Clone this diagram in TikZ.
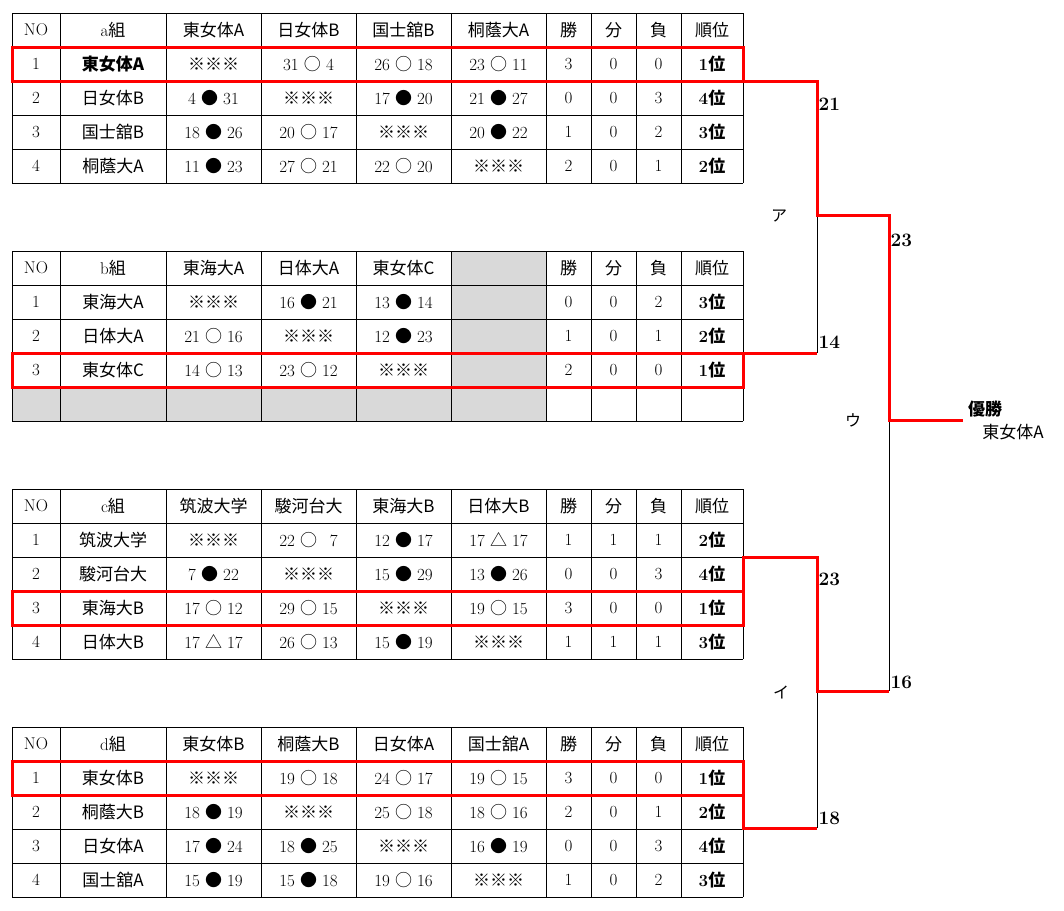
\documentclass[tikz,border=0pt]{standalone}
\usepackage{fontspec}
\newfontfamily\cjk{Noto Sans CJK JP}
\newcommand\jp[1]{{\cjk #1}}
\newcommand\wscore[2]{#1 \jp{○} #2}
\newcommand\lscore[2]{#1 \jp{●} #2}
\newcommand\dscore[2]{#1 \jp{△} #2}
\newcommand\noscore{\jp{※※※}}
\newcommand\juni[1]{\textbf{#1\jp{位}}}
\definecolor{cellgray}{RGB}{217,217,217}
\tikzset{gridline/.style = {line width=1pt, black},
         winline/.style = {line width=3pt, red},
         loseline/.style = {line width=1pt, black},
         cell/.style = {font=\fontsize{17}{20}\selectfont, inner sep=0pt},
         score/.style = {font=\fontsize{19}{22}\selectfont\bfseries, inner sep=1.5pt, anchor=west},
         kana/.style = {font=\fontsize{16}{20}\selectfont\cjk, inner sep=0pt}}
\def\colx{{36,113,213.5,308.5,403.5,498.5,568.5,613.5,658.5,712}}
\newcommand\grouptable[3]{%
  \foreach \k in {0,...,5}
    \draw[gridline] (12,#2+34*\k) -- (743,#2+34*\k);
  \foreach \gx in {12,60,166,261,356,451,546,591,636,681,743}
    \draw[gridline] (\gx,#2) -- (\gx,#2+170);
  \foreach \row [count=\i from 0] in {#3} {
    \foreach \txt [count=\j] in \row {
      \pgfmathsetmacro\cx{\colx[\j-1]}
      \node[cell] (#1-\i-\j) at (\cx,#2+17+34*\i) {\txt};
    }
  }}

\begin{document}
\begin{tikzpicture}[x=1pt, y=-1pt]
\useasboundingbox (0,0) rectangle (1064,910);
% group tables
\grouptable{a}{13}{
  {NO, a\jp{組}, \jp{東女体A}, \jp{日女体B}, \jp{国士舘B}, \jp{桐蔭大A}, \jp{勝}, \jp{分}, \jp{負}, \jp{順位}},
  {1, \textbf{\jp{東女体A}}, \noscore, \wscore{31}{4}, \wscore{26}{18}, \wscore{23}{11}, 3, 0, 0, \juni{1}},
  {2, \jp{日女体B}, \lscore{4}{31}, \noscore, \lscore{17}{20}, \lscore{21}{27}, 0, 0, 3, \juni{4}},
  {3, \jp{国士舘B}, \lscore{18}{26}, \wscore{20}{17}, \noscore, \lscore{20}{22}, 1, 0, 2, \juni{3}},
  {4, \jp{桐蔭大A}, \lscore{11}{23}, \wscore{27}{21}, \wscore{22}{20}, \noscore, 2, 0, 1, \juni{2}}}
\fill[cellgray] (451,251) rectangle (546,421);
\fill[cellgray] (12,387) rectangle (546,421);
\grouptable{b}{251}{
  {NO, b\jp{組}, \jp{東海大A}, \jp{日体大A}, \jp{東女体C}, {}, \jp{勝}, \jp{分}, \jp{負}, \jp{順位}},
  {1, \jp{東海大A}, \noscore, \lscore{16}{21}, \lscore{13}{14}, {}, 0, 0, 2, \juni{3}},
  {2, \jp{日体大A}, \wscore{21}{16}, \noscore, \lscore{12}{23}, {}, 1, 0, 1, \juni{2}},
  {3, \jp{東女体C}, \wscore{14}{13}, \wscore{23}{12}, \noscore, {}, 2, 0, 0, \juni{1}}}
\grouptable{c}{489}{
  {NO, c\jp{組}, \jp{筑波大学}, \jp{駿河台大}, \jp{東海大B}, \jp{日体大B}, \jp{勝}, \jp{分}, \jp{負}, \jp{順位}},
  {1, \jp{筑波大学}, \noscore, \wscore{22}{\hphantom{0}7}, \lscore{12}{17}, \dscore{17}{17}, 1, 1, 1, \juni{2}},
  {2, \jp{駿河台大}, \lscore{7}{22}, \noscore, \lscore{15}{29}, \lscore{13}{26}, 0, 0, 3, \juni{4}},
  {3, \jp{東海大B}, \wscore{17}{12}, \wscore{29}{15}, \noscore, \wscore{19}{15}, 3, 0, 0, \juni{1}},
  {4, \jp{日体大B}, \dscore{17}{17}, \wscore{26}{13}, \lscore{15}{19}, \noscore, 1, 1, 1, \juni{3}}}
\grouptable{d}{727}{
  {NO, d\jp{組}, \jp{東女体B}, \jp{桐蔭大B}, \jp{日女体A}, \jp{国士舘A}, \jp{勝}, \jp{分}, \jp{負}, \jp{順位}},
  {1, \jp{東女体B}, \noscore, \wscore{19}{18}, \wscore{24}{17}, \wscore{19}{15}, 3, 0, 0, \juni{1}},
  {2, \jp{桐蔭大B}, \lscore{18}{19}, \noscore, \wscore{25}{18}, \wscore{18}{16}, 2, 0, 1, \juni{2}},
  {3, \jp{日女体A}, \lscore{17}{24}, \lscore{18}{25}, \noscore, \lscore{16}{19}, 0, 0, 3, \juni{4}},
  {4, \jp{国士舘A}, \lscore{15}{19}, \lscore{15}{18}, \wscore{19}{16}, \noscore, 1, 0, 2, \juni{3}}}
% group winners
\draw[winline] (12,47) rectangle (743,81) coordinate (a1);
\draw[winline] (12,387) rectangle (743,353) coordinate (b3);
\draw[winline] (12,625) rectangle (743,591) coordinate (c3);
\draw[winline] (12,761) rectangle (743,795) coordinate (d1);
% bracket
\coordinate (pA) at (817,215);
\coordinate (bA) at (817,353);
\coordinate (pI) at (817,691);
\coordinate (dI) at (817,828);
\coordinate (pU) at (889,420);
\coordinate (champ) at (963,420);
\draw[loseline] (pA) -- (bA);
\draw[loseline] (pU) -- (pU |- pI);
\draw[loseline] (pI) -- (dI);
\draw[winline] (b3) -- (bA);
\draw[winline] (d1) |- (dI);
\draw[winline] (c3) -- ++(0,-34) -| (pI) -- (pI -| pU);
\draw[winline] (a1) -| (pA) -| (pU) -- (champ);
\node[score] (sa) at (817,104) {21};
\node[score] (sb) at (817,342) {14};
\node[score] (sA) at (889,240) {23};
\node[score] (sc) at (817,579) {23};
\node[score] (sI) at (889,682) {16};
\node[score] (sd) at (817,818) {18};
\node[kana] (kA) at (779,216) {ア};
\node[kana] (kI) at (781,692) {イ};
\node[kana] (kU) at (853,420) {ウ};
\node[cell, font=\fontsize{17}{20}\selectfont\bfseries\cjk] (yusho) at (985,409) {優勝};
\node[cell, font=\fontsize{17}{20}\selectfont\cjk] (winner) at (1013,432) {東女体A};
\end{tikzpicture}
\end{document}
